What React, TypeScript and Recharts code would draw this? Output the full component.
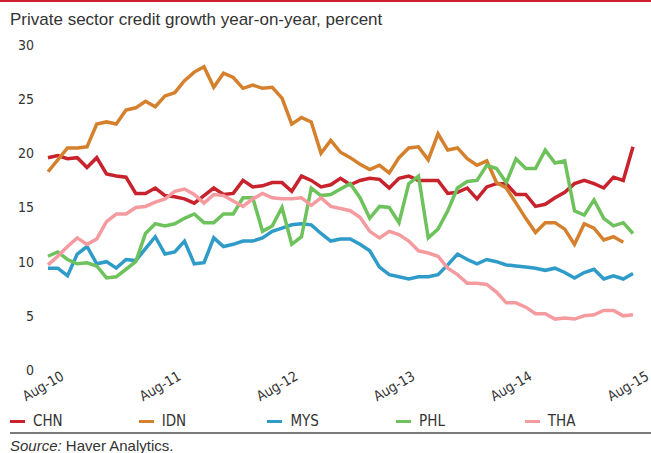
import { LineChart, Line, XAxis, YAxis } from 'recharts'

const NARROW = '"Liberation Sans Narrow", "DejaVu Sans Condensed", "Roboto", sans-serif'
const REGULAR = '"Liberation Sans", Arial, sans-serif'

// month categories, Aug-10 .. Aug-15
const MONTH_NAMES = ['Jan', 'Feb', 'Mar', 'Apr', 'May', 'Jun', 'Jul', 'Aug', 'Sep', 'Oct', 'Nov', 'Dec']
const months: string[] = []
for (let k = 0; k < 61; k++) {
  const m = (7 + k) % 12
  const y = 10 + Math.floor((7 + k) / 12)
  months.push(`${MONTH_NAMES[m]}-${y}`)
}

const yTicks = [0, 5, 10, 15, 20, 25, 30]

const chn = [
  19.6, 19.8, 19.5, 19.6, 18.7, 19.6, 18.1, 17.9, 17.8, 16.3, 16.3, 16.8, 16.1, 16.0, 15.8, 15.4,
  16.1, 16.8, 16.2, 16.3, 17.5, 16.9, 17.0, 17.3, 17.3, 16.5, 17.9, 17.5, 16.9, 17.1, 17.7, 17.1,
  17.5, 17.7, 17.6, 16.8, 17.7, 17.9, 17.5, 17.5, 17.5, 16.3, 16.4, 16.8, 15.8, 16.9, 17.2, 17.2,
  16.2, 16.2, 15.1, 15.3, 15.9, 16.4, 17.2, 17.5, 17.2, 16.8, 17.8, 17.5, 20.6,
]

const idn = [
  18.3, 19.4, 20.5, 20.5, 20.6, 22.7, 22.9, 22.7, 24.0, 24.2, 24.8, 24.3, 25.3, 25.6, 26.7, 27.5,
  28.0, 26.1, 27.4, 27.0, 26.0, 26.3, 26.0, 26.1, 25.1, 22.7, 23.3, 22.9, 20.0, 21.2, 20.1, 19.6,
  19.0, 18.5, 18.9, 18.2, 19.6, 20.5, 20.6, 19.4, 21.8, 20.3, 20.5, 19.5, 18.9, 19.3, 17.3, 16.8,
  15.4, 14.0, 12.7, 13.6, 13.6, 13.0, 11.6, 13.5, 13.1, 12.0, 12.3, 11.8,
]

const mys = [
  9.4, 9.4, 8.7, 10.7, 11.4, 9.8, 10.0, 9.4, 10.2, 10.1, 11.2, 12.3, 10.7, 10.9, 11.9, 9.8,
  9.9, 12.2, 11.4, 11.6, 11.9, 11.9, 12.2, 12.8, 13.1, 13.4, 13.5, 13.4, 12.6, 11.9, 12.1, 12.1,
  11.6, 11.0, 9.5, 8.8, 8.6, 8.4, 8.6, 8.6, 8.8, 9.7, 10.7, 10.2, 9.8, 10.2, 10.0, 9.7,
  9.6, 9.5, 9.4, 9.2, 9.4, 9.0, 8.5, 9.0, 9.3, 8.4, 8.7, 8.4, 8.9,
]

const phl = [
  10.5, 10.9, 10.2, 9.8, 9.9, 9.6, 8.5, 8.6, 9.3, 10.0, 12.6, 13.5, 13.3, 13.5, 14.0, 14.4,
  13.6, 13.6, 14.4, 14.4, 15.9, 15.9, 12.8, 13.3, 15.0, 11.6, 12.3, 16.8, 16.1, 16.2, 16.7, 17.2,
  15.9, 14.0, 15.1, 15.0, 13.6, 17.2, 17.9, 12.2, 13.0, 14.7, 16.8, 17.4, 17.5, 18.9, 18.6, 17.3,
  19.5, 18.6, 18.6, 20.3, 19.1, 19.3, 14.7, 14.3, 15.7, 14.0, 13.3, 13.6, 12.6,
]

const tha = [
  9.7, 10.5, 11.4, 12.2, 11.6, 12.1, 13.7, 14.4, 14.4, 15.0, 15.1, 15.5, 15.8, 16.5, 16.7, 16.2,
  15.4, 16.2, 16.1, 15.6, 15.1, 15.8, 16.3, 15.9, 15.8, 15.8, 15.9, 15.2, 15.9, 15.1, 14.9, 14.7,
  14.1, 12.8, 12.2, 12.8, 12.5, 11.9, 11.0, 10.8, 10.5, 9.4, 8.8, 8.0, 8.0, 7.9, 7.2, 6.2,
  6.2, 5.8, 5.2, 5.2, 4.7, 4.8, 4.7, 5.0, 5.1, 5.5, 5.5, 5.0, 5.1,
]

const series = [
  { key: 'CHN', color: '#c8222d', values: chn },
  { key: 'IDN', color: '#d5802d', values: idn },
  { key: 'MYS', color: '#2f9bc8', values: mys },
  { key: 'PHL', color: '#6ec25c', values: phl },
  { key: 'THA', color: '#f59ba0', values: tha },
]

const data = months.map((label, i) => {
  const row: Record<string, string | number | null> = { label }
  series.forEach(s => {
    row[s.key] = s.values[i] ?? null
  })
  return row
})

const MonthTick = (props: any) => {
  const { x, payload } = props
  return (
    <g transform={`translate(${x - 5},386)`}>
      <text
        transform="rotate(-30)"
        textAnchor="middle"
        dominantBaseline="central"
        fontSize={14}
        fontFamily={NARROW}
        fill="#333"
      >
        {payload.value}
      </text>
    </g>
  )
}

export default function App() {
  return (
    <div style={{ position: 'absolute', left: 0, top: 0, width: 651, height: 453, background: '#fff', overflow: 'hidden' }}>
      <div style={{ position: 'absolute', left: 0, top: 0, width: 651, height: 2, background: '#d0202e' }} />
      <div
        style={{
          position: 'absolute', left: 10, top: 10, lineHeight: '20px',
          fontSize: 17, fontFamily: REGULAR, color: '#333', whiteSpace: 'nowrap',
        }}
      >
        Private sector credit growth year-on-year, percent
      </div>

      <div style={{ position: 'absolute', left: 0, top: 0 }}>
        <LineChart width={651} height={453} data={data} margin={{ top: 45, right: 18, bottom: 53, left: 0 }}>
          <XAxis
            dataKey="label"
            interval={11}
            height={30}
            axisLine={false}
            tickLine={false}
            tick={<MonthTick />}
          />
          <YAxis
            domain={[0, 30]}
            ticks={yTicks}
            width={48}
            axisLine={false}
            tickLine={false}
            tickSize={0}
            tickMargin={14}
            tick={{ fontSize: 14, fontFamily: NARROW, fill: '#333' }}
          />
          {series.map(s => (
            <Line
              key={s.key}
              type="linear"
              dataKey={s.key}
              stroke={s.color}
              strokeWidth={3.5}
              dot={false}
              activeDot={false}
              isAnimationActive={false}
            />
          ))}
        </LineChart>
      </div>

      {series.map((s, i) => (
        <div
          key={s.key}
          style={{
            position: 'absolute', left: 10 + i * 128.7, top: 411, height: 20,
            display: 'flex', alignItems: 'center',
            fontSize: 15, fontFamily: NARROW, color: '#333',
          }}
        >
          <span style={{ display: 'inline-block', width: 15, height: 3, background: s.color, marginRight: 8 }} />
          {s.key}
        </div>
      ))}

      <div style={{ position: 'absolute', left: 10, top: 432, width: 641, height: 2, background: '#7a7a7a' }} />
      <div
        style={{
          position: 'absolute', left: 10, top: 437, lineHeight: '18px',
          fontSize: 15, fontFamily: REGULAR, color: '#333', whiteSpace: 'nowrap',
        }}
      >
        <i>Source:</i> Haver Analytics.
      </div>
    </div>
  )
}
